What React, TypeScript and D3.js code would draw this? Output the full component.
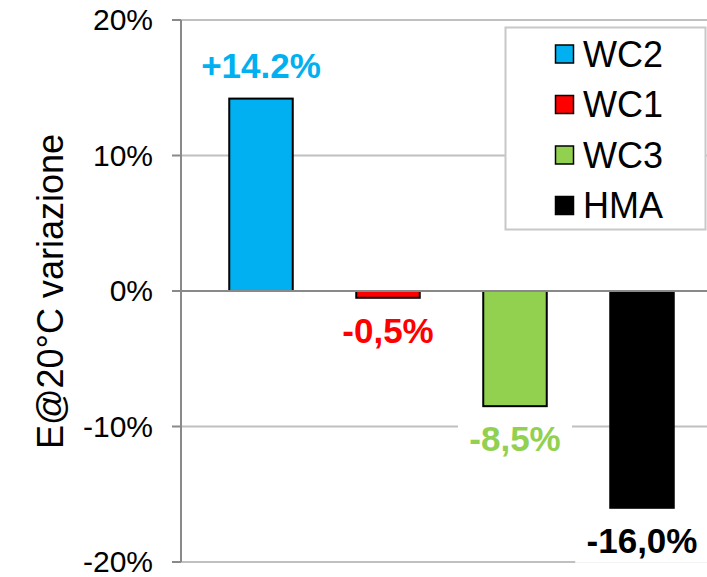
import React from 'react';
import * as d3 from 'd3';

const categories = ['WC2', 'WC1', 'WC3', 'HMA'];
const values = [14.2, -0.5, -8.5, -16.0];
const valueLabels = ['+14.2%', '-0,5%', '-8,5%', '-16,0%'];
const colors = ['#00b0f0', '#ff0000', '#92d050', '#000000'];
const yTicks = [-20, -10, 0, 10, 20];
const yTitle = 'E@20°C variazione';

const W = 707;
const H = 577;
const FONT = '"Liberation Sans", Arial, sans-serif';

export default function App() {
  const axisX = 181;
  const y = d3.scaleLinear().domain([-20, 20]).range([562, 20]);
  const x = d3.scaleBand<string>()
    .domain(categories)
    .range([197.5, 705.5])
    .paddingInner(0.5)
    .paddingOuter(0.25);

  const axisColor = '#898989';
  const gridColor = '#c0c0c0';

  const labelFont = 35;

  // label above positive bars, below negative ones
  const labels = categories.map((c, i) => {
    const v = values[i];
    const cx = (x(c) as number) + x.bandwidth() / 2;
    const baseline = v >= 0 ? y(v) - 21 : y(v) + 45;
    const w = valueLabels[i].length * labelFont * 0.56;
    return { c, cx, baseline, w, text: valueLabels[i], color: colors[i] };
  });

  return (
    <svg width={W} height={H} style={{ position: 'absolute', left: 0, top: 0 }}
         fontFamily={FONT}>
      <rect x={0} y={0} width={W} height={H} fill="#fff" />

      {yTicks.filter(t => t !== 0).map(t => (
        <line key={'g' + t} x1={axisX} x2={W} y1={y(t)} y2={y(t)}
              stroke={gridColor} strokeWidth={2} />
      ))}

      {categories.map((c, i) => {
        const v = values[i];
        const y0 = y(Math.max(0, v));
        const y1 = y(Math.min(0, v));
        return (
          <rect key={c} x={x(c)} y={y0} width={x.bandwidth()} height={y1 - y0}
                fill={colors[i]} stroke="#000" strokeWidth={2} />
        );
      })}

      <line x1={axisX} x2={W} y1={y(0)} y2={y(0)} stroke={axisColor} strokeWidth={2} />

      <line x1={axisX} x2={axisX} y1={y(20)} y2={y(-20)} stroke={axisColor} strokeWidth={2} />
      {yTicks.map(t => (
        <g key={'t' + t}>
          <line x1={axisX - 9} x2={axisX} y1={y(t)} y2={y(t)} stroke={axisColor} strokeWidth={2} />
          <text x={axisX - 28} y={y(t)} dy="0.34em" textAnchor="end" fontSize={30} fill="#000">
            {t + '%'}
          </text>
        </g>
      ))}

      <text transform={`translate(63,${(131 + 452) / 2}) rotate(-90)`} textAnchor="middle"
            fontSize={36} fill="#000">{yTitle}</text>

      {labels.map(l => (
        <g key={'l' + l.c}>
          <rect x={l.cx - l.w / 2 - 8} y={l.baseline - 30} width={l.w + 16} height={40} fill="#fff" />
          <text x={l.cx} y={l.baseline} textAnchor="middle" fontSize={labelFont}
                fontWeight="bold" fill={l.color}>{l.text}</text>
        </g>
      ))}

      <rect x={505.5} y={27.5} width={200} height={202} fill="#fff" stroke="#c8c8c8" strokeWidth={2} />
      {categories.map((c, i) => {
        const cy = 54 + i * 50.5;
        return (
          <g key={'lg' + c}>
            <rect x={555.5} y={cy - 9} width={18} height={18} fill={colors[i]} stroke="#000" strokeWidth={1.5} />
            <text x={583} y={cy} dy="0.36em" fontSize={36} fill="#000">{c}</text>
          </g>
        );
      })}
    </svg>
  );
}
